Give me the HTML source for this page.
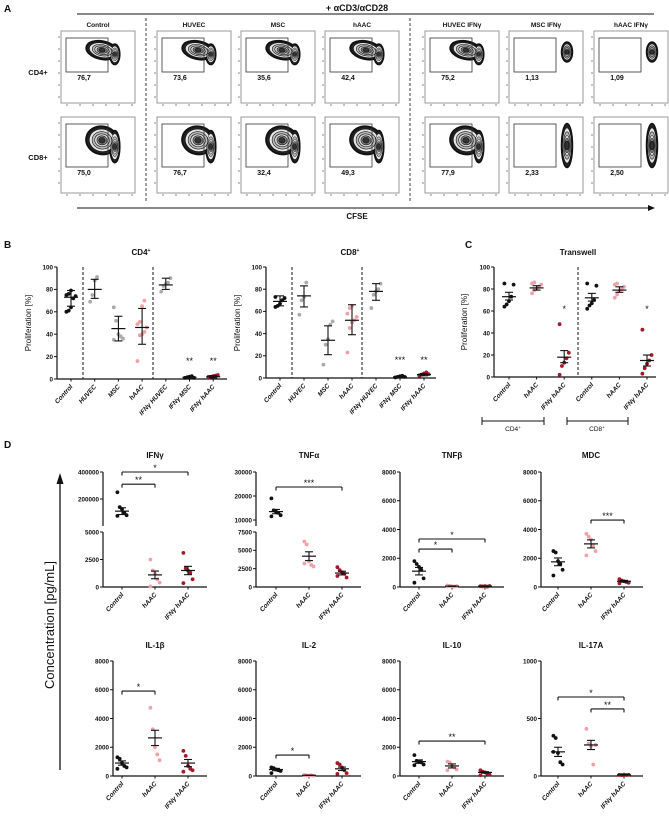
<!DOCTYPE html>
<html><head><meta charset="utf-8"><style>
body{margin:0;background:#fff}
svg{display:block;font-family:"Liberation Sans",Arial,sans-serif}
</style></head><body>
<svg id="fig" width="669" height="817" viewBox="0 0 669 817" xmlns="http://www.w3.org/2000/svg">
<rect width="669" height="817" fill="#fff"/>
</svg>
<script>
// ---------- Panel A data ----------
const flowCols = ["Control","HUVEC","MSC","hAAC","HUVEC IFNγ","MSC IFNγ","hAAC IFNγ"];
const flowCD4 = ["76,7","73,6","35,6","42,4","75,2","1,13","1,09"];
const flowCD8 = ["75,0","76,7","32,4","49,3","77,9","2,33","2,50"];
// ---------- Panel B data ----------
const bCats = ["Control","HUVEC","MSC","hAAC","IFNγ HUVEC","IFNγ MSC","IFNγ hAAC"];
const bCD4Pts = [[60,61,64,72,74,75,76,79],[69,75,88,91],[64,52,40,38,36,35],[16,39,40,42,46,49,51,65,70],[78,83,85,86,90],[1,1.5,2,2.5,1],[1,2,2.5,3,3.5,2]];
const bCD4Mean = [73,80,45,46,84,1.5,2];
const bCD4Lo = [65,72,34,31,80,1,1];
const bCD4Hi = [79,89,56,63,90,2,3];
const bCD4Sig = ["","","","","","**","**"];
const bCD8Pts = [[64,65,67,70,72,73],[57,70,73,86],[12,30,35,48,51],[23,45,50,52,55,58,63,65],[63,75,78,80,85],[0.5,1,1.5,2,1],[2,3,4,5,3.5,2.5]];
const bCD8Mean = [69,74,34,52,78,1,3];
const bCD8Lo = [65,64,21,39,70,0.5,2];
const bCD8Hi = [74,83,47,66,85,1.5,4];
const bCD8Sig = ["","","","","","***","**"];
// ---------- Panel C data ----------
const cCats = ["Control","hAAC","IFNγ hAAC","Control","hAAC","IFNγ hAAC"];
const cPts = [[64,66,69,73,84,85],[76,79,80,82,84,85,86],[2,10,13,17,22,48],[62,65,67,70,83,85],[72,75,78,80,82,84,85],[3,8,12,15,20,43]];
const cMean = [73,81,18,72,79,15];
const cLo = [70,79,13,69,77,10];
const cHi = [77,83,24,76,82,20];
const cSig = ["","","*","","","*"];
// ---------- Panel D data ----------
const dCats = ["Control","hAAC","IFNγ hAAC"];
const ifngPts = [[250000,140000,125000,100000,80000,75000],[2500,1500,1200,700,400,50],[3100,1700,1500,1300,700,350]];
const ifngMean = [110000,1100,1500]; const ifngSem = [25000,350,380];
const tnfaPts = [[19000,14000,13500,13000,12000,11500],[6200,5800,3500,3000,2800,3200],[2700,2300,2000,1800,1300,1500]];
const tnfaMean = [13500,4200,1900]; const tnfaSem = [900,600,250];
const tnfbPts = [[1800,1600,1400,1200,600,300],[100,80,50,30,60,40],[50,40,60,30,70,50]];
const tnfbMean = [1100,60,50]; const tnfbSem = [260,15,10];
const mdcPts = [[2500,2400,1800,1600,1200,800],[3700,3500,3300,2900,2500,2200],[550,450,400,350,300,250]];
const mdcMean = [1750,3000,400]; const mdcSem = [270,280,60];
const il1bPts = [[1300,1200,900,700,600,500],[4750,3250,2000,1500,1100],[1750,1400,700,500,400,300]];
const il1bMean = [900,2650,900]; const il1bSem = [150,530,250];
const il2Pts = [[600,550,450,400,350,200],[60,40,30,50,20,70],[900,800,600,400,200,150]];
const il2Mean = [450,50,500]; const il2Sem = [80,10,120];
const il10Pts = [[1450,1050,1000,950,800,750],[1000,950,700,600,450,400],[400,300,250,150,100,50]];
const il10Mean = [1000,700,250]; const il10Sem = [120,140,50];
const il17Pts = [[350,330,200,120,100,210],[410,280,260,100,270],[10,8,12,9,11,10]];
const il17Mean = [210,270,10]; const il17Sem = [40,40,2];

const NS="http://www.w3.org/2000/svg";
const svg=document.getElementById('fig');
function mk(tag,at,parent){const e=document.createElementNS(NS,tag);for(const k in at)e.setAttribute(k,at[k]);(parent||svg).appendChild(e);return e;}
function txt(x,y,s,size,opts,parent){opts=opts||{};const e=mk('text',{x:x,y:y,'font-size':size,'text-anchor':opts.anchor||'middle','font-weight':opts.weight||'bold','fill':'#111'},parent);if(opts.italic)e.setAttribute('font-style','italic');if(opts.rot!==undefined)e.setAttribute('transform','rotate('+opts.rot+' '+x+' '+y+')');e.textContent=s;return e;}
function line(x1,y1,x2,y2,w,parent,dash){const e=mk('line',{x1:x1,y1:y1,x2:x2,y2:y2,stroke:'#111','stroke-width':w||1},parent);if(dash)e.setAttribute('stroke-dasharray',dash);return e;}

// Panel letters
[["A",4,12],["B",4,248],["C",465,248],["D",4,448]].forEach(p=>{const t=txt(p[1],p[2],p[0],10,{anchor:'start'});});

// ---------- Panel A ----------
const gA=mk('g',{});


let t=txt(357,11,"+ αCD3/αCD28",9,{},gA);


line(77,14,654,14,1,gA);
const boxX=[61,157,241,325,425,509,594];
line(146,18,146,203,0.8,gA,'3,2');line(410,18,410,203,0.8,gA,'3,2');
t=txt(38,75,"CD4+",7.5,{},gA);
t=txt(38,160,"CD8+",7.5,{},gA);
function blob(g,cx,cy,sx,sy,kind){
  const levels=[1,0.8,0.62,0.46,0.32,0.2];
  const fills=['#222','#e6e6e6','#bbb','#d8d8d8','#888','#333'];
  levels.forEach((s,i)=>{
    if(kind==='narrow'){
      mk('ellipse',{cx:cx,cy:cy,rx:5*s+0.5,ry:sy*s,fill:fills[i],stroke:'#111','stroke-width':i==0?1.5:0.6},g);
    } else {
      mk('ellipse',{cx:cx,cy:cy,rx:sx*s,ry:sy*s,fill:fills[i],stroke:'#111','stroke-width':i==0?1.8:0.6,transform:'rotate(12 '+cx+' '+cy+')'},g);
      mk('ellipse',{cx:cx+sx*0.8,cy:cy+sy*0.45,rx:4.5*s+0.5,ry:sy*1.15*s,fill:fills[i],stroke:'#111','stroke-width':i==0?1.5:0.5},g);
    }
  });
}
flowCols.forEach((c,i)=>{
  const bx=boxX[i], w=74;
  t=txt(bx+w/2,27,c,6.5,{},gA);
  
  
  [[31,103,flowCD4[i],34],[117,193,flowCD8[i],43]].forEach((r,ri)=>{
    const g=mk('g',{},gA);
    
    
    mk('rect',{x:bx,y:r[0],width:w,height:r[1]-r[0],fill:'#fff',stroke:'#999','stroke-width':1},g);
    for(let k=0;k<6;k++){line(bx-3,r[0]+6+k*12,bx-1,r[0]+6+k*12,0.5,g);line(bx+6+k*13,r[1]+1,bx+6+k*13,r[1]+3,0.5,g);}
    const gx=bx+5, gy=r[0]+7, gw=42, gh=r[3];
    const narrow=(i==5||i==6);
    if(narrow) blob(g,gx+gw+11,gy+(ri?gh/2:gh/2-3),0,ri?22:10,'narrow');
    else blob(g,gx+gw-6,gy+(ri?gh*0.38:gh*0.36),16,ri?14:9,'wide');
    mk('rect',{x:gx,y:gy,width:gw,height:gh,fill:'none',stroke:'#333','stroke-width':0.8},g);
    txt(gx+18,gy+gh+8,r[2],7,{},g);
  });
});
line(77,208,650,208,1,gA);
mk('polygon',{points:'655,208 648,205 648,211',fill:'#111'},gA);
t=txt(357,219,"CFSE",8,{},gA);

// ---------- scatter chart helper ----------
function chart(cfg){
  const g=mk('g',{});
  
  
  const Y=v=>{
    if(cfg.brk && v>cfg.lowMax) return cfg.upBot-(v-cfg.upMin)/(cfg.upMax-cfg.upMin)*(cfg.upBot-cfg.upTop);
    return cfg.y0-v/cfg.lowMax*(cfg.y0-cfg.lowTop);
  };
  const X=i=>cfg.x0+cfg.off+i*cfg.step;
  if(cfg.brk){line(cfg.ax,cfg.lowTop,cfg.ax,cfg.y0,1.2,g);line(cfg.ax,cfg.upTop,cfg.ax,cfg.upBot,1.2,g);}
  else line(cfg.ax,cfg.lowTop,cfg.ax,cfg.y0,1.2,g);
  line(cfg.ax,cfg.y0,cfg.xEnd,cfg.y0,1.2,g);
  cfg.ticks.forEach(v=>{const y=Y(v);line(cfg.ax-3,y,cfg.ax,y,1,g);txt(cfg.ax-4,y+2.3,String(v),6.3,{anchor:'end'},g);});
  cfg.cats.forEach((c,i)=>{line(X(i),cfg.y0,X(i),cfg.y0+2.5,1,g);
    const l=txt(X(i)+2,cfg.y0+8,c,6.5,{anchor:'end',italic:true,rot:-48},g);
    
    });
  (cfg.dashes||[]).forEach(d=>line(cfg.x0+d,cfg.lowTop,cfg.x0+d,cfg.y0,1,g,'3,2'));
  cfg.pts.forEach((arr,i)=>{
    const col=cfg.colors[i];
    arr.forEach((v,k)=>{
      const jx=((k%5)-2)*2.3;
      const p=mk('circle',{cx:X(i)+jx,cy:Y(v),r:1.9,fill:col},g);
      
      
    });
    const m=cfg.mean[i], lo=cfg.lo?cfg.lo[i]:m-cfg.sem[i], hi=cfg.hi?cfg.hi[i]:m+cfg.sem[i];
    const eg=mk('g',{},g);
    
    
    line(X(i)-7,Y(m),X(i)+7,Y(m),1.2,eg);
    line(X(i),Y(lo),X(i),Y(hi),1.1,eg);
    line(X(i)-4,Y(lo),X(i)+4,Y(lo),1.1,eg);line(X(i)-4,Y(hi),X(i)+4,Y(hi),1.1,eg);
  });
  (cfg.sig||[]).forEach((s,i)=>{if(s){txt(X(i),Y(cfg.sigY)+3,s,9,{weight:'normal'},g);}});
  (cfg.brackets||[]).forEach(b=>{
    const y=Y(b[2]);const bg=mk('g',{},g);
    
    
    line(X(b[0]),y,X(b[1]),y,1.1,bg);line(X(b[0]),y,X(b[0]),y+3.5,1.1,bg);line(X(b[1]),y,X(b[1]),y+3.5,1.1,bg);
    txt((X(b[0])+X(b[1]))/2,y-1,b[3],9,{weight:'normal'},bg);
  });
  if(cfg.title){const tt=txt(cfg.titleX,cfg.titleY,cfg.title,8,{},g);}
  return {g,X,Y};
}
const K='#111', G='#aaa', P='#f0a0a8', R='#a3192b';

// Panel B
let b1=chart({name:'cd4-proliferation-chart',ax:57,x0:57,off:14,step:23.7,xEnd:227,y0:379,lowTop:267,lowMax:100,ticks:[0,20,40,60,80,100],
  cats:bCats,pts:bCD4Pts,mean:bCD4Mean,lo:bCD4Lo,hi:bCD4Hi,colors:[K,G,G,P,G,K,R],dashes:[26,96],sig:bCD4Sig,sigY:16});
txt(141,255,"CD4",8,{},b1.g).innerHTML='CD4<tspan dy="-3" font-size="5">+</tspan>';
let b2=chart({name:'cd8-proliferation-chart',ax:266,x0:266,off:14,step:24,xEnd:436,y0:378,lowTop:267,lowMax:100,ticks:[0,20,40,60,80,100],
  cats:bCats,pts:bCD8Pts,mean:bCD8Mean,lo:bCD8Lo,hi:bCD8Hi,colors:[K,G,G,P,G,K,R],dashes:[26,96],sig:bCD8Sig,sigY:16});
txt(350,255,"CD8",8,{},b2.g).innerHTML='CD8<tspan dy="-3" font-size="5">+</tspan>';
[[31],[240]].forEach(a=>{const e=txt(a[0],323,"Proliferation [%]",8,{weight:'normal',rot:-90});});
// Panel C
let c1=chart({name:'transwell-chart',ax:494,x0:494,off:15,step:27.6,xEnd:656,y0:377,lowTop:267,lowMax:100,ticks:[0,20,40,60,80,100],
  cats:cCats,pts:cPts,mean:cMean,lo:cLo,hi:cHi,colors:[K,P,R,K,P,R],dashes:[84],sig:cSig,sigY:62,title:'Transwell',titleX:578,titleY:255});
t=txt(467,322,"Proliferation [%]",8,{weight:'normal',rot:-90});
[[482,544,513,"CD4"],[567,628,597,"CD8"]].forEach(b=>{const g=mk('g',{});
  line(b[0],421,b[1],421,1,g);line(b[0],417,b[0],425,1,g);line(b[1],417,b[1],425,1,g);
  txt(b[2],431,"",6.5,{weight:'normal'},g).innerHTML=b[3]+'<tspan dy="-2" font-size="4.5">+</tspan>';});

// Panel D
const dRow1={y0:587,lowTop:472};const dRow2={y0:776,lowTop:661};
const cols=[[103,122],[256,276],[400,419],[541,558]];
const dcol=[K,P,R];
function dChart(name,title,ci,row,extra){
  const base=Object.assign({name:name,ax:cols[ci][0],x0:cols[ci][1],off:0,step:33,xEnd:cols[ci][1]+85,y0:row.y0,lowTop:row.lowTop,cats:dCats,colors:dcol,title:title,titleX:cols[ci][1]+33,titleY:row.y0-(row===dRow1?129:128)},extra);
  return chart(base);
}
dChart('ifng-chart','IFNγ',0,dRow1,{brk:true,lowTop:532,lowMax:5000,upTop:472,upBot:526,upMin:0,upMax:400000,ticks:[0,2500,5000,200000,400000],pts:ifngPts,mean:ifngMean,sem:ifngSem,brackets:[[0,1,310000,'**'],[0,2,400000,'*']]});
dChart('tnfa-chart','TNFα',1,dRow1,{brk:true,lowTop:532,lowMax:7500,upTop:472,upBot:526,upMin:7500,upMax:30000,ticks:[0,2500,5000,7500,10000,20000,30000],pts:tnfaPts,mean:tnfaMean,sem:tnfaSem,brackets:[[0,2,23750,'***']]});
dChart('tnfb-chart','TNFβ',2,dRow1,{lowMax:8000,ticks:[0,2000,4000,6000,8000],pts:tnfbPts,mean:tnfbMean,sem:tnfbSem,brackets:[[0,2,3340,'*'],[0,1,2640,'*']]});
dChart('mdc-chart','MDC',3,dRow1,{lowMax:8000,ticks:[0,2000,4000,6000,8000],pts:mdcPts,mean:mdcMean,sem:mdcSem,brackets:[[1,2,4660,'***']]});
dChart('il1b-chart','IL-1β',0,dRow2,{ax:113,lowMax:8000,ticks:[0,2000,4000,6000,8000],pts:il1bPts,mean:il1bMean,sem:il1bSem,brackets:[[0,1,5910,'*']]});
dChart('il2-chart','IL-2',1,dRow2,{lowMax:8000,ticks:[0,2000,4000,6000,8000],pts:il2Pts,mean:il2Mean,sem:il2Sem,brackets:[[0,1,1460,'*']]});
dChart('il10-chart','IL-10',2,dRow2,{lowMax:8000,ticks:[0,2000,4000,6000,8000],pts:il10Pts,mean:il10Mean,sem:il10Sem,brackets:[[0,2,2430,'**']]});
dChart('il17a-chart','IL-17A',3,dRow2,{lowMax:1000,ticks:[0,500,1000],pts:il17Pts,mean:il17Mean,sem:il17Sem,brackets:[[0,2,687,'*'],[1,2,583,'**']]});
line(60,482,60,770,1.3);
mk('polygon',{points:'60,473 56.5,484 63.5,484',fill:'#111'});
t=txt(54,625,"Concentration [pg/mL]",13,{weight:'normal',rot:-90});


</script>
</body></html>
